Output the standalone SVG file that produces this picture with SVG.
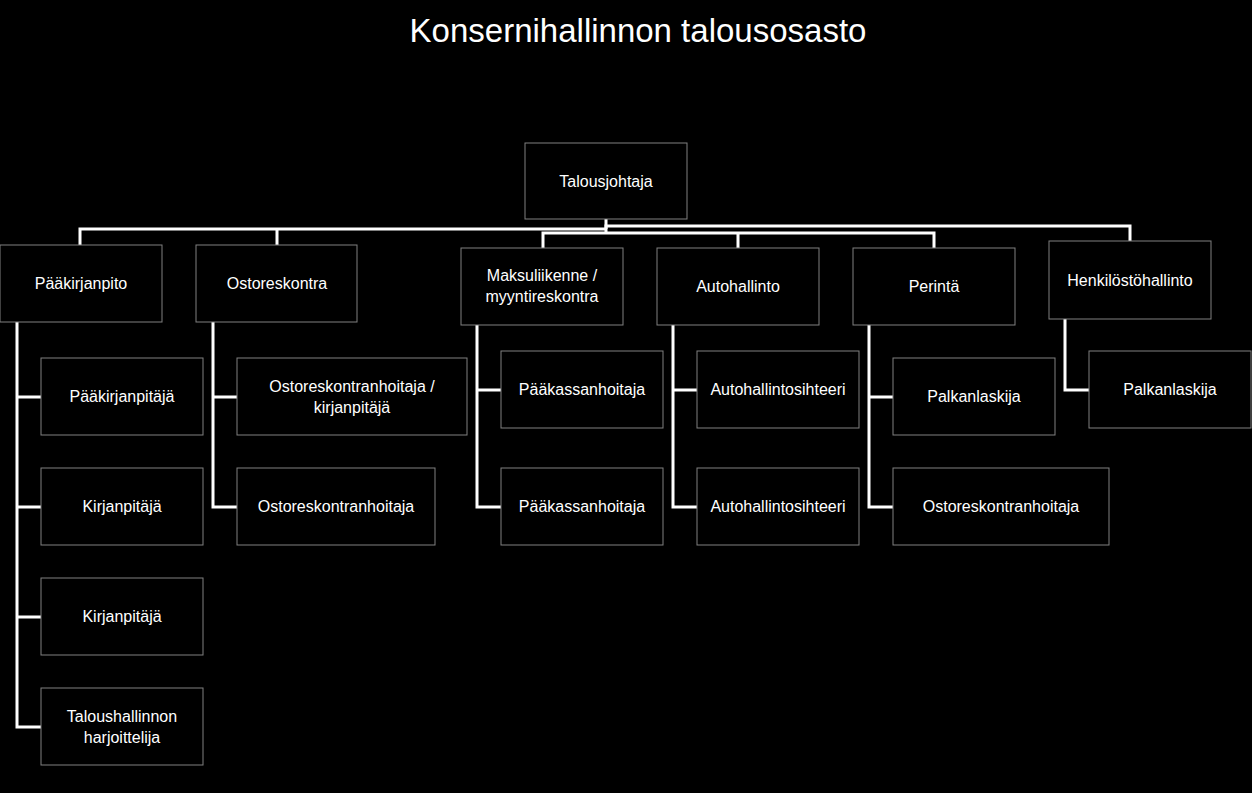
<svg xmlns="http://www.w3.org/2000/svg" width="1252" height="793" viewBox="0 0 1252 793">
<style>
.b{fill:#000;stroke:#808080;stroke-width:1}
.t{fill:#fff;font-family:"Liberation Sans",Arial,sans-serif;font-size:16px;text-anchor:middle}
.c{fill:none;stroke:#fff;stroke-width:3}
</style>
<rect width="1252" height="793" fill="#000"/>
<text x="638" y="42" style="fill:#fff;font-family:'Liberation Sans',Arial,sans-serif;font-size:33px;text-anchor:middle">Konsernihallinnon talousosasto</text>
<g id="connectors" class="c">
<path d="M606 219V229M80 245V229H606M277 229V245"/>
<path d="M606 229V226H1130V241"/>
<path d="M606 229V233H543V248M606 233H934V248M738 233V248"/>
<path d="M17 322V727H41M17 397H41M17 507H41M17 617H41"/>
<path d="M213 322V507H237M213 397H237"/>
<path d="M477 325V507H501M477 390H501"/>
<path d="M673 325V507H697M673 390H697"/>
<path d="M869 325V507H893M869 397H893"/>
<path d="M1065 319V390H1089"/>
</g>
<g id="n0"><rect class="b" x="525" y="143" width="162" height="76"/><text class="t" x="606" y="187">Talousjohtaja</text></g>
<g id="n1"><rect class="b" x="0" y="245" width="162" height="77"/><text class="t" x="81" y="289">Pääkirjanpito</text></g>
<g id="n2"><rect class="b" x="196" y="245" width="161" height="77"/><text class="t" x="277" y="289">Ostoreskontra</text></g>
<g id="n3"><rect class="b" x="461" y="248" width="162" height="77"/><text class="t" x="542" y="281">Maksuliikenne /</text><text class="t" x="542" y="302">myyntireskontra</text></g>
<g id="n4"><rect class="b" x="657" y="248" width="162" height="77"/><text class="t" x="738" y="292">Autohallinto</text></g>
<g id="n5"><rect class="b" x="853" y="248" width="162" height="77"/><text class="t" x="934" y="292">Perintä</text></g>
<g id="n6"><rect class="b" x="1049" y="241" width="162" height="78"/><text class="t" x="1130" y="286">Henkilöstöhallinto</text></g>
<g id="n7"><rect class="b" x="41" y="358" width="162" height="77"/><text class="t" x="122" y="402">Pääkirjanpitäjä</text></g>
<g id="n8"><rect class="b" x="41" y="468" width="162" height="77"/><text class="t" x="122" y="512">Kirjanpitäjä</text></g>
<g id="n9"><rect class="b" x="41" y="578" width="162" height="77"/><text class="t" x="122" y="622">Kirjanpitäjä</text></g>
<g id="n10"><rect class="b" x="41" y="688" width="162" height="77"/><text class="t" x="122" y="722">Taloushallinnon</text><text class="t" x="122" y="743">harjoittelija</text></g>
<g id="n11"><rect class="b" x="237" y="358" width="230" height="77"/><text class="t" x="352" y="392">Ostoreskontranhoitaja  /</text><text class="t" x="352" y="413">kirjanpitäjä</text></g>
<g id="n12"><rect class="b" x="237" y="468" width="198" height="77"/><text class="t" x="336" y="512">Ostoreskontranhoitaja</text></g>
<g id="n13"><rect class="b" x="501" y="351" width="162" height="77"/><text class="t" x="582" y="395">Pääkassanhoitaja</text></g>
<g id="n14"><rect class="b" x="501" y="468" width="162" height="77"/><text class="t" x="582" y="512">Pääkassanhoitaja</text></g>
<g id="n15"><rect class="b" x="697" y="351" width="162" height="77"/><text class="t" x="778" y="395">Autohallintosihteeri</text></g>
<g id="n16"><rect class="b" x="697" y="468" width="162" height="77"/><text class="t" x="778" y="512">Autohallintosihteeri</text></g>
<g id="n17"><rect class="b" x="893" y="358" width="162" height="77"/><text class="t" x="974" y="402">Palkanlaskija</text></g>
<g id="n18"><rect class="b" x="893" y="468" width="216" height="77"/><text class="t" x="1001" y="512">Ostoreskontranhoitaja</text></g>
<g id="n19"><rect class="b" x="1089" y="351" width="162" height="77"/><text class="t" x="1170" y="395">Palkanlaskija</text></g>
</svg>
